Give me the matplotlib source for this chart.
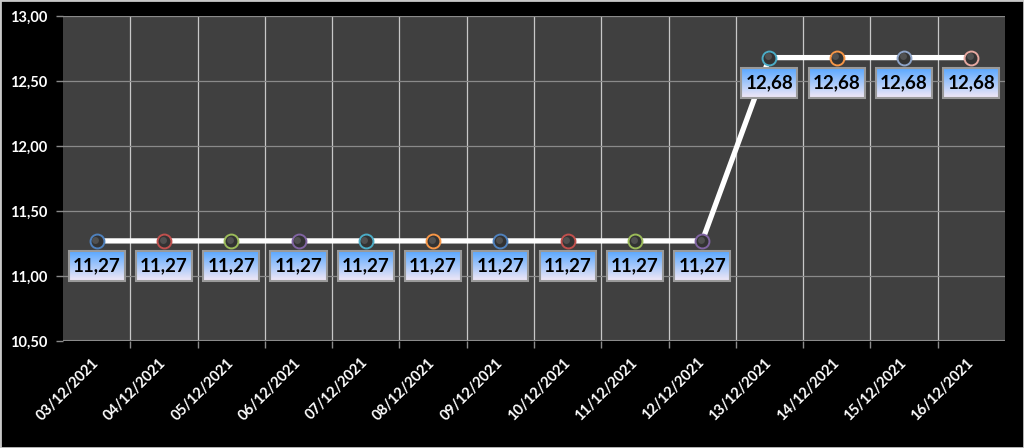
import matplotlib.pyplot as plt
import matplotlib.colors as mcolors
import numpy as np

# data
dates = ['03/12/2021', '04/12/2021', '05/12/2021', '06/12/2021', '07/12/2021',
         '08/12/2021', '09/12/2021', '10/12/2021', '11/12/2021', '12/12/2021',
         '13/12/2021', '14/12/2021', '15/12/2021', '16/12/2021']
values = [11.27, 11.27, 11.27, 11.27, 11.27, 11.27, 11.27, 11.27, 11.27, 11.27,
          12.68, 12.68, 12.68, 12.68]
edge_colors = ['#4F81BD', '#C0504D', '#9BBB59', '#8064A2', '#4BACC6', '#F79646',
               '#4F81BD', '#C0504D', '#9BBB59', '#8064A2', '#4BACC6', '#F79646',
               '#8EA4C8', '#E6A8A0']
y_ticks = [10.5, 11.0, 11.5, 12.0, 12.5, 13.0]

fig = plt.figure(figsize=(10.24, 4.48), dpi=100, facecolor='black')
ax = fig.add_axes([63/1024, (448-341)/448, (1005-63)/1024, (341-16)/448])
ax.set_facecolor('#404040')

x = np.arange(len(dates))
ax.set_xlim(-0.5, len(dates) - 0.5)
ax.set_ylim(10.5, 13.0)

# grid
ax.set_xticks(x)
ax.set_xticks(x[:-1] + 0.5, minor=True)
ax.set_yticks(y_ticks)
ax.grid(True, which='minor', axis='x', color='#c8c8c8', lw=0.9)
ax.grid(True, which='major', axis='y', color='#8a8a8a', lw=0.9)
for s in ax.spines.values():
    s.set_visible(False)
ax.axhline(10.5, color='#8a8a8a', lw=1.5)

ax.set_xticklabels(dates, rotation=45, ha='right', va='center',
                   rotation_mode='anchor', color='white', fontsize=10.5,
                   fontweight='bold', family='Lato')
ax.set_yticklabels([f'{v:.2f}'.replace('.', ',') for v in y_ticks],
                   color='white', fontsize=10.5, fontweight='bold', family='Lato')
ax.tick_params(axis='x', which='major', length=0, pad=14)
ax.tick_params(axis='x', which='minor', length=5, color='#8a8a8a', width=1)
ax.tick_params(axis='y', length=5, color='#8a8a8a', width=1, pad=6)

# line and markers
ax.plot(x, values, color='white', lw=3.8, zorder=3, solid_capstyle='butt')
for xi, vi, ec in zip(x, values, edge_colors):
    ax.plot(xi, vi, 'o', ms=10, mfc='#333333', mec=ec, mew=1.4, zorder=4)
    ax.plot(xi - 0.02, vi + 0.01, 'o', ms=5, mfc='#5e5e5e', mec='none',
            alpha=0.7, zorder=5)

# data labels with gradient boxes
fig.canvas.draw()
inv = ax.transData.inverted()
grad = np.linspace(0, 1, 64).reshape(-1, 1)
cmap = mcolors.LinearSegmentedColormap.from_list('lbl', ['#5aa8ff', '#f2e8f6'])
for xi, vi in zip(x, values):
    px, py = ax.transData.transform((xi, vi))
    x0, y1 = inv.transform((px - 28, py - 10))
    x1, y0 = inv.transform((px + 28, py - 40))
    ax.imshow(grad, extent=(x0, x1, y0, y1), cmap=cmap, aspect='auto',
              origin='upper', zorder=6, interpolation='bilinear')
    ax.add_patch(plt.Rectangle((x0, y0), x1 - x0, y1 - y0, fill=False,
                               ec='#9a9a9a', lw=1.5, zorder=7))
    ax.text(xi, (y0 + y1) / 2, f'{vi:.2f}'.replace('.', ','), ha='center',
            va='center', fontsize=13.5, fontweight='bold', family='Lato',
            color='black', zorder=8)
ax.set_xlim(-0.5, len(dates) - 0.5)
ax.set_ylim(10.5, 13.0)

# light frame around the image
fig.add_artist(plt.Rectangle((0, 0), 1, 1, transform=fig.transFigure,
                             fill=False, ec='#c8c8c8', lw=2))

fig.savefig('out.png', dpi=100, facecolor='black')
